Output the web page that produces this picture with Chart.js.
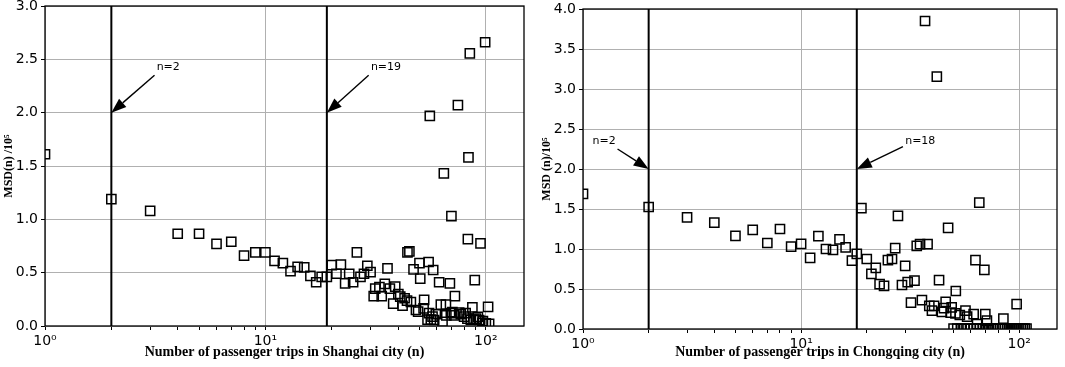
<!DOCTYPE html>
<html>
<head>
<meta charset="utf-8">
<script src="https://cdn.jsdelivr.net/npm/chart.js@4.4.0/dist/chart.umd.min.js"></script>
<style>
html,body{margin:0;padding:0;background:#fff;width:1065px;height:367px;overflow:hidden;position:relative}
.box{position:absolute}
</style>
</head>
<body>
<div class="box" style="left:0;top:-10px;width:532px;height:377px"><canvas id="c1"></canvas></div>
<div class="box" style="left:532px;top:-10px;width:533px;height:377px"><canvas id="c2"></canvas></div>
<script>
// ---------- Shanghai ----------
const shN = [1,2,3,4,5,6,7,8,9,10,11,12,13,14,15,16,17,18,19,20,21,22,23,24,25,26,27,28,29,30,
  31,31.5,32.9,33.7,34.8,35.8,36.7,38,38.8,40.1,40.9,41.9,42.8,43.9,44.1,45,45.7,47,48.2,49.3,50,50.4,
  52.2,52.5,54.4,55,55.3,55.7,56.3,57.3,57.7,58.3,59.3,61.4,62.5,63.6,64.5,65.9,66.2,68.7,69.4,69.8,
  70.5,71.8,72.4,74.7,75.7,77,79.7,81,82.5,82.9,83.4,84.6,85.5,86.9,88,89.1,90.1,92,93.3,94.6,96.5,97,
  99.3,100,102.4,103.5];
const shMSD = [1.61,1.19,1.08,0.865,0.865,0.77,0.79,0.66,0.69,0.69,0.61,0.59,0.515,0.555,0.55,0.47,0.41,0.46,0.46,0.57,
  0.49,0.575,0.40,0.49,0.41,0.69,0.46,0.49,0.565,0.505,
  0.28,0.35,0.365,0.28,0.395,0.54,0.35,0.21,0.37,0.30,0.275,0.19,0.26,0.237,0.69,0.70,0.225,0.53,0.15,0.135,0.59,0.445,
  0.165,0.245,0.06,0.60,0.12,1.97,0.06,0.087,0.525,0.056,0.11,0.41,0.20,0.04,1.43,0.20,0.10,0.40,0.12,1.03,
  0.13,0.10,0.28,2.07,0.125,0.11,0.087,0.12,0.07,0.815,1.58,2.555,0.056,0.175,0.06,0.43,0.07,0.085,0.056,0.775,0.03,0.045,
  2.66,0.025,0.18,0.02];

// ---------- Chongqing ----------
const cqN = [1,2,3,4,5,6,7,8,9,10,11,12,13,14,15,16,17.1,18,18.9,20,21,22,22.9,24,25,26.1,27,27.8,29,30,
  30.8,31.9,33.1,33.9,35.1,35.8,37,38,38.7,39.8,40.7,41.9,42.9,44.2,45.2,46,47.2,48.5,49,51,51.2,53.4,
  56.7,57.7,61.8,63,64.1,65.6,69.2,69.9,71.1,84.6,97.3,
  50,52,54,56,58,60,62,64,66,68,70,72,74,76,78,80,82,84,86,88,90,92,94,96,98,100,102,104,106,108];
const cqMSD = [1.69,1.525,1.395,1.33,1.165,1.24,1.075,1.25,1.03,1.065,0.89,1.16,1.0,0.99,1.12,1.02,0.855,0.94,1.51,0.875,
  0.69,0.765,0.56,0.54,0.86,0.875,1.01,1.415,0.55,0.79,
  0.585,0.33,0.605,1.04,1.06,0.36,3.85,1.06,0.29,0.23,0.29,3.155,0.61,0.215,0.26,0.34,1.265,0.205,0.27,0.195,0.475,0.175,
  0.23,0.155,0.185,0.86,0.06,1.58,0.74,0.185,0.105,0.13,0.31,
  0.005,0.005,0.005,0.005,0.005,0.005,0.005,0.005,0.005,0.005,0.005,0.005,0.005,0.005,0.005,0.005,0.005,0.005,0.005,0.005,
  0.005,0.005,0.005,0.005,0.005,0.005,0.005,0.005,0.005,0.005];

// ---------- axes ----------
const xTickValues = [1,2,3,4,5,6,7,8,9,10,20,30,40,50,60,70,80,90,100];
const xTickLabels = {1:'10\u2070', 10:'10\u00B9', 100:'10\u00B2'};
const xMin = 1, xMax = 149;
const shYMax = 3.0, cqYMax = 4.0;
const shThresholds = [2, 19];
const cqThresholds = [2, 18];
const shXTitle = 'Number of passenger trips in Shanghai city (n)';
const cqXTitle = 'Number of passenger trips in Chongqing city (n)';
const shYTitle = 'MSD(n) /10\u2075';
const cqYTitle = 'MSD (n)/10\u2075';

// annotations (data coordinates)
const shNotes = [
  {text:'n=2',  tip:[2,2.0],  tail:[3.14,2.35], label:[3.21,2.43]},
  {text:'n=19', tip:[19,2.0], tail:[29.4,2.35], label:[30.1,2.43]}
];
const cqNotes = [
  {text:'n=2',  tip:[2,2.0],  tail:[1.44,2.25], label:[1.106,2.35]},
  {text:'n=18', tip:[18,2.0], tail:[29.3,2.28], label:[30.0,2.35]}
];

function notesPlugin(notes){
  return {
    id:'notes',
    afterDatasetsDraw(chart){
      const {ctx, chartArea:a, scales:{x, y}} = chart;
      ctx.save();
      notes.forEach(nt => {
        const tx = x.getPixelForValue(nt.tip[0]), ty = y.getPixelForValue(nt.tip[1]);
        const sx = x.getPixelForValue(nt.tail[0]), sy = y.getPixelForValue(nt.tail[1]);
        const dx = tx - sx, dy = ty - sy, L = Math.hypot(dx, dy);
        const ux = dx / L, uy = dy / L;
        const hl = 15, hw = 5.5;
        const bx = tx - ux * hl, by = ty - uy * hl;
        ctx.strokeStyle = '#000'; ctx.lineWidth = 1.4;
        ctx.beginPath(); ctx.moveTo(sx, sy); ctx.lineTo(bx, by); ctx.stroke();
        ctx.fillStyle = '#000';
        ctx.beginPath();
        ctx.moveTo(tx, ty);
        ctx.lineTo(bx - uy * hw, by + ux * hw);
        ctx.lineTo(bx + uy * hw, by - ux * hw);
        ctx.closePath(); ctx.fill();
        ctx.font = '11px "DejaVu Sans"';
        ctx.textAlign = 'left'; ctx.textBaseline = 'middle';
        ctx.fillText(nt.text, x.getPixelForValue(nt.label[0]), y.getPixelForValue(nt.label[1]));
      });
      ctx.strokeStyle = '#000'; ctx.lineWidth = 1.3;
      ctx.strokeRect(a.left, a.top, a.right - a.left, a.bottom - a.top);
      ctx.restore();
    }
  };
}

const tickFont = {family:'"DejaVu Sans"', size:14};

function makeChart(id, p){
  const pts = p.n.map((v, i) => ({x:v, y:p.msd[i]}));
  const datasets = [{
    data: pts, showLine:false, pointStyle:'rect', pointRadius:6.5,
    pointBorderColor:'#000', pointBackgroundColor:'rgba(0,0,0,0)', pointBorderWidth:1.5, clip:0
  }];
  p.lines.forEach(v => datasets.push({
    data:[{x:v, y:0}, {x:v, y:p.yMax}], showLine:true, borderColor:'#000', borderWidth:2,
    pointRadius:0, clip:0
  }));
  return new Chart(document.getElementById(id), {
    type:'scatter',
    data:{datasets},
    options:{
      responsive:true, maintainAspectRatio:false, animation:false, events:[],
      layout:{padding:{top:p.padTop, right:p.padRight, left:0, bottom:0}},
      plugins:{legend:{display:false}, tooltip:{enabled:false}},
      scales:{
        x:{
          type:'logarithmic', min:xMin, max:xMax, bounds:'data',
          afterBuildTicks: s => { s.ticks = xTickValues.map(v => ({value:v, major: !!xTickLabels[v]})); },
          afterFit: s => { s.height = p.xAxisHeight; },
          ticks:{autoSkip:false, maxRotation:0, minRotation:0, padding:3, color:'#000', font:tickFont,
                 callback: v => xTickLabels[v] || ''},
          grid:{color: c => (c.tick && xTickLabels[c.tick.value]) ? '#b0b0b0' : 'rgba(0,0,0,0)',
                lineWidth:1, tickColor:'#000', tickLength:4, tickWidth:1},
          border:{display:false},
          title:{display:true, text:p.xTitle, color:'#000',
                 font:{family:'"Liberation Serif"', size:14, weight:'bold'}, padding:{top:0, bottom:6}}
        },
        y:{
          type:'linear', min:0, max:p.yMax,
          afterFit: s => { s.width = p.yAxisWidth; },
          ticks:{stepSize:0.5, padding:3, color:'#000', font:tickFont, callback: v => Number(v).toFixed(1)},
          grid:{color:'#b0b0b0', lineWidth:1, tickColor:'#000', tickLength:4, tickWidth:1},
          border:{display:false},
          title:{display:true, text:p.yTitle, color:'#000',
                 font:{family:'"Liberation Serif"', size:12, weight:'bold'}, padding:{top:p.yTitlePad, bottom:0}}
        }
      }
    },
    plugins:[notesPlugin(p.notes)]
  });
}

makeChart('c1', {n:shN, msd:shMSD, lines:shThresholds, yMax:shYMax, xTitle:shXTitle, yTitle:shYTitle,
  notes:shNotes, padTop:16, padRight:7, yAxisWidth:45, xAxisHeight:41, yTitlePad:2});
makeChart('c2', {n:cqN, msd:cqMSD, lines:cqThresholds, yMax:cqYMax, xTitle:cqXTitle, yTitle:cqYTitle,
  notes:cqNotes, padTop:19, padRight:2, yAxisWidth:51, xAxisHeight:38, yTitlePad:8});
</script>
</body>
</html>
